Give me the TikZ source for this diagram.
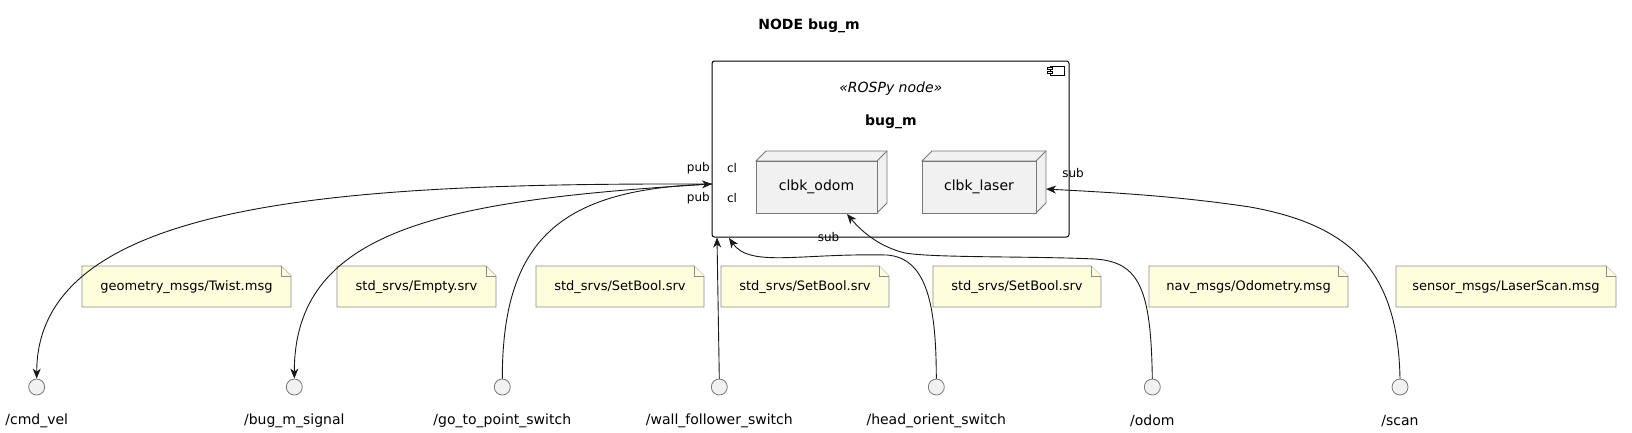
\documentclass[tikz,border=0pt]{standalone}
\usepackage{fontspec}
\setmainfont{DejaVu Sans}
\usetikzlibrary{arrows.meta}
\definecolor{notefill}{RGB}{254,254,221}
\definecolor{noteline}{RGB}{140,140,140}
\definecolor{boxfill}{RGB}{241,241,241}
\definecolor{boxline}{RGB}{120,120,120}
\definecolor{edgecol}{RGB}{24,24,24}
\tikzset{
  lbl/.style={inner sep=0pt, font=\fontsize{12}{14}\selectfont},
  txt/.style={inner sep=0pt, font=\fontsize{14}{16}\selectfont},
  notetxt/.style={inner sep=0pt, font=\fontsize{13}{15}\selectfont},
  topic/.style={circle, draw=boxline, fill=boxfill, line width=0.8pt, minimum size=16pt, inner sep=0pt},
  notebody/.style={fill=notefill, draw=noteline, line width=0.8pt},
  facebox/.style={fill=boxfill, draw=boxline, line width=0.8pt},
  edge/.style={draw=edgecol, line width=0.9pt},
  tip/.style={-{Stealth[length=10pt,width=8pt,inset=3pt]}},
}
% note: name, left x, right x, text
\newcommand\mynote[4]{%
  \path[notebody] (#2,266) -- (#3-10,266) -- (#3,276) -- (#3,307) -- (#2,307) -- cycle;
  \path[notebody] (#3-10,266) -- (#3-10,276) -- (#3,276);
  \node[notetxt] (#1) at ({(#2+#3)/2},287) {#4};
}
% 3d box: name, left x, right x, text
\newcommand\mycube[4]{%
  \path[facebox] (#2,161) -- (#2+10,151) -- (#3+10,151) -- (#3+10,203) -- (#3,213) -- (#3,161) -- cycle;
  \path[facebox] (#2,161) rectangle (#3,213);
  \draw[boxline, line width=0.8pt] (#3,161) -- (#3+10,151);
  \node[txt, minimum width={#3-#2}, minimum height=52] (#1) at ({(#2+#3)/2},187) {#4};
}
\begin{document}
\begin{tikzpicture}[x=1pt,y=-1pt]
\useasboundingbox (0,0) rectangle (1632,432);
\fill[white] (0,0) rectangle (1632,432);

% title
\node[inner sep=0pt, font=\fontsize{14}{16}\selectfont\bfseries] (title) at (809,26) {NODE bug\_m};

% component
\draw[black, line width=1pt, rounded corners=2.5pt] (712,61) rectangle (1069,237);
\node[inner sep=0pt, minimum width=357, minimum height=176] (comp) at (890.5,149) {};
\draw[black, line width=0.8pt, fill=white] (1050,66) rectangle (1064,75);
\draw[black, line width=0.8pt, fill=white] (1047,67.5) rectangle (1052,69.5);
\draw[black, line width=0.8pt, fill=white] (1047,71) rectangle (1052,73);
\node[txt, font=\fontsize{14}{16}\selectfont\itshape] (stereo) at (890.8,89) {«ROSPy node»};
\node[txt, font=\fontsize{14}{16}\selectfont\bfseries] (cname) at (890.8,122) {bug\_m};

\mycube{odomcb}{756}{877}{clbk\_odom}
\mycube{lasercb}{922}{1036}{clbk\_laser}

% port labels
\node[lbl, anchor=east] (pub1) at (710,168) {pub};
\node[lbl, anchor=east] (pub2) at (710,198) {pub};
\node[lbl] (cl1) at (732,168) {cl};
\node[lbl] (cl2) at (732,198) {cl};
\node[lbl] (sub1) at (828.5,237.5) {sub};
\node[lbl] (sub2) at (1073,173) {sub};

% ports
\coordinate (pL) at (712,184);
\coordinate (pB1) at (717,237.5);
\coordinate (pB2) at (729,238);
\coordinate (pO) at (847,214);
\coordinate (pS) at (1046,189);

% topics
\node[topic] (cmdvel) at (36.7,387) {};
\node[topic] (bugsig) at (294.3,387) {};
\node[topic] (gtp) at (502.3,387) {};
\node[topic] (wfs) at (719.3,387) {};
\node[topic] (hos) at (936.3,387) {};
\node[topic] (odom) at (1152.3,387) {};
\node[topic] (scan) at (1400,387) {};
\node[txt] (cmdvelL) at (36.7,421) {/cmd\_vel};
\node[txt] (bugsigL) at (294.3,421) {/bug\_m\_signal};
\node[txt] (gtpL) at (502.3,421) {/go\_to\_point\_switch};
\node[txt] (wfsL) at (719.3,421) {/wall\_follower\_switch};
\node[txt] (hosL) at (936.3,421) {/head\_orient\_switch};
\node[txt] (odomL) at (1152.3,421) {/odom};
\node[txt] (scanL) at (1400,421) {/scan};

% notes
\mynote{n1}{82}{291}{geometry\_msgs/Twist.msg}
\mynote{n2}{337}{496}{std\_srvs/Empty.srv}
\mynote{n3}{536}{704}{std\_srvs/SetBool.srv}
\mynote{n4}{721}{889}{std\_srvs/SetBool.srv}
\mynote{n5}{933}{1101}{std\_srvs/SetBool.srv}
\mynote{n6}{1149}{1348}{nav\_msgs/Odometry.msg}
\mynote{n7}{1396}{1616}{sensor\_msgs/LaserScan.msg}

% edges
\draw[edge, tip] (pL) .. controls (350,183) and (37,198) .. (cmdvel.north);
\draw[edge, tip] (pL) .. controls (440,200) and (294.3,230) .. (bugsig.north);
\draw[edge, tip] (gtp.north) .. controls (502.3,240) and (560,190) .. (pL);
\draw[edge, tip] (wfs.north) -- (pB1);
\draw[edge, tip] (hos.north) .. controls (936.3,300) and (925,258) .. (887,255)
  .. controls (800,253) and (750,268) .. (pB2);
\draw[edge, tip] (odom.north) .. controls (1151,290) and (1140,262) .. (1095,259)
  .. controls (1030,256) and (935,258) .. (905,253)
  .. controls (880,247) and (862,232) .. (pO);
\draw[edge, tip] (scan.north) .. controls (1398,270) and (1350,225) .. (1250,207)
  .. controls (1170,195) and (1100,192) .. (pS);
\end{tikzpicture}
\end{document}
